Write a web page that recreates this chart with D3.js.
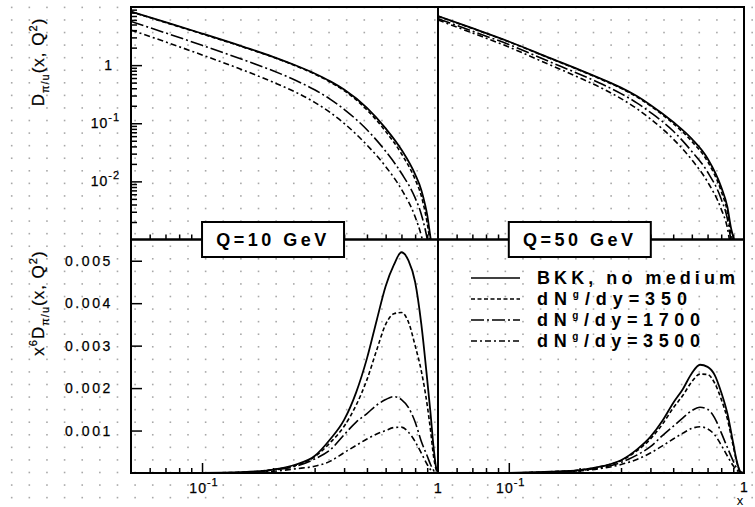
<!DOCTYPE html>
<html>
<head>
<meta charset="utf-8">
<script src="https://cdn.jsdelivr.net/npm/d3@7"></script>
<style>
  body { margin: 0; background: #fff; }
  svg { display: block; }
  text { font-family: "Liberation Sans", Arial, sans-serif; fill: #000; }
</style>
</head>
<body>
<svg id="chart" width="755" height="507"></svg>
<script>
// ---- data ----------------------------------------------------------------
// momentum fraction grid for the fragmentation functions D(x,Q^2)
const xGridD = [0.05, 0.07, 0.1, 0.15, 0.2, 0.25, 0.3, 0.35, 0.4, 0.5, 0.6, 0.7, 0.8, 0.85, 0.88, 0.9, 0.93, 0.95];
// momentum fraction grid for x^6 D(x,Q^2)
const xGridX6 = [0.05, 0.1, 0.15, 0.2, 0.25, 0.3, 0.35, 0.4, 0.45, 0.5, 0.55, 0.6, 0.65, 0.7, 0.75, 0.8, 0.85, 0.9, 0.93, 0.96, 0.98, 1.0];

const seriesLabels = ["BKK, no medium", "350", "1700", "3500"];
const scaleLabels = ["Q=10 GeV", "Q=50 GeV"];

// D_{pi/u}(x,Q^2), Q = 10 GeV
const dQ10_bkk  = [8.37, 5.48, 3.50, 2.067, 1.391, 0.985, 0.718, 0.525, 0.379, 0.1837, 0.0815, 0.0351, 0.0132, 0.00705, 0.0041, 0.00265, 0.00106, 0.0006];
const dQ10_350  = [8.27, 5.41, 3.445, 2.034, 1.369, 0.966, 0.704, 0.508, 0.3645, 0.1697, 0.0724, 0.0299, 0.0108, 0.0056, 0.00309, 0.00192, 0.0008, 0.0005];
const dQ10_1700 = [5.63, 3.585, 2.193, 1.23, 0.799, 0.544, 0.376, 0.258, 0.174, 0.0772, 0.033, 0.0138, 0.0052, 0.0027, 0.00157, 0.00102, 0.0004, 0.0002];
const dQ10_3500 = [4.02, 2.51, 1.50, 0.815, 0.51, 0.34, 0.229, 0.1525, 0.0998, 0.0421, 0.018, 0.0073, 0.00246, 0.00116, 0.00064, 0.0004, 0.0002, 0.0001];

// D_{pi/u}(x,Q^2), Q = 50 GeV
const dQ50_bkk  = [7.0, 4.318, 2.55, 1.321, 0.831, 0.570, 0.4105, 0.2932, 0.2069, 0.1051, 0.0538, 0.02475, 0.00797, 0.00362, 0.0016, 0.0011, 0.0006, 0.0003];
const dQ50_350  = [6.92, 4.267, 2.52, 1.30, 0.815, 0.557, 0.3993, 0.2841, 0.1989, 0.099, 0.0487, 0.02198, 0.0068, 0.00297, 0.00129, 0.00087, 0.0005, 0.0003];
const dQ50_1700 = [6.317, 3.834, 2.263, 1.132, 0.6955, 0.4678, 0.3237, 0.2248, 0.1537, 0.0736, 0.0327, 0.0145, 0.00496, 0.00225, 0.00098, 0.00065, 0.0004, 0.0002];
const dQ50_3500 = [5.975, 3.57, 2.05, 1.005, 0.6052, 0.3961, 0.2655, 0.1786, 0.1188, 0.0536, 0.0235, 0.0098, 0.00333, 0.00158, 0.0007, 0.0005, 0.0003, 0.0002];

// x^6 D_{pi/u}(x,Q^2), Q = 10 GeV
const x6Q10_bkk  = [0, 0.000002, 0.00002, 0.00008, 0.0002, 0.0004, 0.0008, 0.00125, 0.0019, 0.0027, 0.0036, 0.0044, 0.0049, 0.0052, 0.0050, 0.0045, 0.0035, 0.0022, 0.0014, 0.00055, 0.00015, 0];
const x6Q10_350  = [0, 0.000002, 0.00002, 0.00008, 0.00018, 0.00038, 0.00072, 0.0011, 0.0016, 0.0022, 0.0029, 0.0035, 0.00375, 0.00378, 0.00355, 0.0030, 0.0024, 0.0016, 0.0010, 0.00035, 0.0001, 0];
const x6Q10_1700 = [0, 0.000001, 0.00001, 0.00007, 0.00016, 0.00033, 0.00055, 0.0009, 0.0012, 0.0014, 0.0016, 0.00173, 0.0018, 0.00173, 0.00154, 0.0012, 0.00074, 0.0004, 0.0002, 0.00006, 0.00002, 0];
const x6Q10_3500 = [0, 0.000001, 0.00001, 0.00004, 0.0001, 0.00016, 0.00028, 0.00048, 0.00065, 0.0008, 0.00092, 0.001, 0.00107, 0.00108, 0.00096, 0.00074, 0.00047, 0.0002, 0.00008, 0.00002, 0.00001, 0];

// x^6 D_{pi/u}(x,Q^2), Q = 50 GeV
const x6Q50_bkk  = [0, 0.000003, 0.00003, 0.00007, 0.00016, 0.0003, 0.00055, 0.00085, 0.00123, 0.00165, 0.00198, 0.00235, 0.00255, 0.0025, 0.00231, 0.0019, 0.0014, 0.0007, 0.0003, 0.00005, 0.00001, 0];
const x6Q50_350  = [0, 0.000003, 0.00003, 0.00007, 0.00016, 0.00029, 0.00052, 0.0008, 0.00115, 0.00153, 0.00183, 0.00215, 0.00233, 0.00232, 0.00212, 0.00174, 0.00127, 0.00063, 0.00027, 0.00005, 0.00001, 0];
const x6Q50_1700 = [0, 0.000002, 0.00002, 0.00006, 0.00013, 0.00025, 0.00042, 0.00062, 0.00088, 0.0011, 0.0013, 0.00147, 0.00155, 0.0015, 0.0013, 0.00095, 0.0006, 0.00028, 0.00012, 0.00003, 0.00001, 0];
const x6Q50_3500 = [0, 0.000002, 0.00002, 0.00005, 0.00011, 0.0002, 0.00032, 0.00047, 0.00064, 0.0008, 0.00094, 0.00105, 0.00109, 0.00104, 0.0009, 0.00066, 0.0004, 0.00017, 0.00007, 0.00002, 0, 0];

// axis ticks
const xMinorTicks = [0.06, 0.07, 0.08, 0.09, 0.2, 0.3, 0.4, 0.5, 0.6, 0.7, 0.8, 0.9];
const xMajorTicks = [0.1];
const yLogMajor = [0.01, 0.1, 1];
const yLinTicks = [0.001, 0.002, 0.003, 0.004, 0.005];

// ---- styles ----------------------------------------------------------------
const lineDash = [null, "4,2.5", "13,3,2,3", "6,3,2,3"];
const lineWidth = [1.8, 1.6, 1.6, 1.6];

// ---- layout & scales -------------------------------------------------------
const W = 755, H = 507;
const colX = [[131, 438], [438, 744]];
const rowY = [[7, 239.5], [239.5, 473]];

const xScales = colX.map(r => d3.scaleLog().domain([0.05, 1]).range(r));
const yLog = d3.scaleLog().domain([1e-3, 10]).range([rowY[0][1], rowY[0][0]]);
const yLin = d3.scaleLinear().domain([0, 0.0055]).range([rowY[1][1], rowY[1][0]]);

const svg = d3.select("#chart");

// faint dotted background raster
const dotG = svg.append("g").attr("fill", "#a8a8a8");
for (let i = 0; i < 44; i++) {
  for (let j = 0; j < 41; j++) {
    const cx = 11.7 + 17.63 * i, cy = 7.4 + 12.57 * j;
    if (cx > W || cy > H) continue;
    dotG.append("rect").attr("x", cx - 0.8).attr("y", cy - 0.8).attr("width", 1.6).attr("height", 1.6);
  }
}

// clip paths for every panel
const defs = svg.append("defs");
[0, 1].forEach(c => [0, 1].forEach(r => {
  defs.append("clipPath").attr("id", `clip-${c}-${r}`)
    .append("rect")
    .attr("x", colX[c][0]).attr("y", rowY[r][0])
    .attr("width", colX[c][1] - colX[c][0]).attr("height", rowY[r][1] - rowY[r][0]);
}));

const panels = [
  { c: 0, r: 0, y: yLog, xs: xGridD,  series: [dQ10_bkk, dQ10_350, dQ10_1700, dQ10_3500] },
  { c: 1, r: 0, y: yLog, xs: xGridD,  series: [dQ50_bkk, dQ50_350, dQ50_1700, dQ50_3500] },
  { c: 0, r: 1, y: yLin, xs: xGridX6, series: [x6Q10_bkk, x6Q10_350, x6Q10_1700, x6Q10_3500] },
  { c: 1, r: 1, y: yLin, xs: xGridX6, series: [x6Q50_bkk, x6Q50_350, x6Q50_1700, x6Q50_3500] }
];

panels.forEach(p => {
  const x = xScales[p.c];
  const line = d3.line()
    .x(d => x(d[0]))
    .y(d => p.y(d[1]))
    .curve(d3.curveMonotoneX);
  const g = svg.append("g").attr("clip-path", `url(#clip-${p.c}-${p.r})`);
  p.series.forEach((vals, k) => {
    const pts = p.xs.map((xv, i) => [xv, vals[i]]);
    g.append("path")
      .attr("d", line(pts))
      .attr("fill", "none")
      .attr("stroke", "#000")
      .attr("stroke-width", lineWidth[k])
      .attr("stroke-dasharray", lineDash[k]);
  });
});

// x-axis ticks (pointing up) on the bottom edge of each panel
function styleAxis(sel) {
  sel.select(".domain").remove();
  sel.selectAll(".tick line").attr("stroke", "#000").attr("stroke-width", 1.5);
  sel.selectAll(".tick text").remove();
}
[0, 1].forEach(c => [0, 1].forEach(r => {
  const yb = rowY[r][1];
  svg.append("g").attr("transform", `translate(0,${yb})`)
    .call(d3.axisBottom(xScales[c]).tickValues(xMinorTicks).tickSizeInner(-5).tickSizeOuter(0))
    .call(styleAxis);
  svg.append("g").attr("transform", `translate(0,${yb})`)
    .call(d3.axisBottom(xScales[c]).tickValues(xMajorTicks).tickSizeInner(-10).tickSizeOuter(0))
    .call(styleAxis);
}));

// y-axis ticks, top-left (log) panel
const yLogMinor = [];
[0.001, 0.01, 0.1, 1].forEach(dec => { for (let m = 2; m <= 9; m++) yLogMinor.push(dec * m); });
svg.append("g").attr("transform", `translate(${colX[0][0]},0)`)
  .call(d3.axisRight(yLog).tickValues(yLogMinor).tickSizeInner(6).tickSizeOuter(0))
  .call(styleAxis);
svg.append("g").attr("transform", `translate(${colX[0][0]},0)`)
  .call(d3.axisRight(yLog).tickValues(yLogMajor).tickSizeInner(11).tickSizeOuter(0))
  .call(styleAxis);

// y-axis ticks and labels, bottom-left (linear) panel
const linAxis = svg.append("g").attr("transform", `translate(${colX[0][0]},0)`)
  .call(d3.axisLeft(yLin).tickValues(yLinTicks).tickSizeInner(-11).tickSizeOuter(0)
    .tickPadding(18).tickFormat(d3.format(".3f")));
linAxis.select(".domain").remove();
linAxis.selectAll(".tick line").attr("stroke", "#000").attr("stroke-width", 1.5);
linAxis.selectAll(".tick text")
  .attr("font-family", "Liberation Sans, Arial, sans-serif")
  .attr("font-size", 14).attr("letter-spacing", "2.6px").attr("fill", "#000")
  .attr("stroke", "#000").attr("stroke-width", 0.25);

// panel frames
[0, 1].forEach(c => [0, 1].forEach(r => {
  svg.append("rect")
    .attr("x", colX[c][0]).attr("y", rowY[r][0])
    .attr("width", colX[c][1] - colX[c][0]).attr("height", rowY[r][1] - rowY[r][0])
    .attr("fill", "none").attr("stroke", "#000").attr("stroke-width", 2);
}));

// power-of-ten label helper
function powLabel(g, x, y, anchor, exp) {
  const t = g.append("text").attr("x", x).attr("y", y).attr("text-anchor", anchor)
    .attr("font-size", 14).attr("letter-spacing", "1px")
    .attr("stroke", "#000").attr("stroke-width", 0.25);
  t.append("tspan").text("10");
  t.append("tspan").attr("dy", -7).attr("font-size", 11).text(exp);
  return t;
}

const labG = svg.append("g");
// log y labels
labG.append("text").attr("x", 112).attr("y", yLog(1) + 5).attr("text-anchor", "end")
  .attr("font-size", 14).attr("stroke", "#000").attr("stroke-width", 0.25).text("1");
powLabel(labG, 120, yLog(0.1) + 5, "end", "-1");
powLabel(labG, 120, yLog(0.01) + 5, "end", "-2");

// x labels under the bottom panels
[0, 1].forEach(c => {
  powLabel(labG, xScales[c](0.1) + 2, 493, "middle", "-1");
});
labG.append("text").attr("x", xScales[0](1)).attr("y", 493).attr("text-anchor", "middle")
  .attr("font-size", 14).attr("stroke", "#000").attr("stroke-width", 0.25).text("1");
labG.append("text").attr("x", xScales[1](1)).attr("y", 492).attr("text-anchor", "middle")
  .attr("font-size", 14).attr("stroke", "#000").attr("stroke-width", 0.25).text("1");
labG.append("text").attr("x", 740).attr("y", 505).attr("text-anchor", "middle")
  .attr("font-size", 13).text("x");

// y-axis titles
function yTitle(cx, cy, withX6) {
  const t = svg.append("text")
    .attr("transform", `translate(${cx},${cy}) rotate(-90)`)
    .attr("text-anchor", "middle").attr("font-size", 17).attr("letter-spacing", "1px")
    .attr("stroke", "#000").attr("stroke-width", 0.25);
  if (withX6) {
    t.append("tspan").text("x");
    t.append("tspan").attr("dy", -7).attr("font-size", 11).text("6");
    t.append("tspan").attr("dy", 7).text("D");
  } else {
    t.append("tspan").text("D");
  }
  t.append("tspan").attr("dy", 5).attr("font-size", 11).text("π/u");
  t.append("tspan").attr("dy", -5).text("(x, Q");
  t.append("tspan").attr("dy", -7).attr("font-size", 11).text("2");
  t.append("tspan").attr("dy", 7).text(")");
}
yTitle(44, 62, false);
yTitle(44, 303, true);

// Q-scale boxes straddling the panel boundary
scaleLabels.forEach((lab, c) => {
  const bx = xScales[c](0.1);
  const g = svg.append("g");
  g.append("rect").attr("x", bx).attr("y", 222).attr("width", 142).attr("height", 35)
    .attr("fill", "#fff").attr("stroke", "#000").attr("stroke-width", 2);
  g.append("text").attr("x", bx + 71).attr("y", 246).attr("text-anchor", "middle")
    .attr("font-size", 18).attr("font-weight", "bold").attr("letter-spacing", "3.5px").text(lab);
});

// legend
const legG = svg.append("g");
const legRowY = [278, 299, 320, 341];
const legTextLen = [198, 150, 163, 163];
seriesLabels.forEach((lab, k) => {
  const y = legRowY[k];
  legG.append("line").attr("x1", 471).attr("x2", 520).attr("y1", y).attr("y2", y)
    .attr("stroke", "#000").attr("stroke-width", 1.5).attr("stroke-dasharray", lineDash[k]);
  const t = legG.append("text").attr("x", 537).attr("y", y + 6)
    .attr("font-size", 18).attr("font-weight", "bold")
    .attr("textLength", legTextLen[k]).attr("lengthAdjust", "spacing");
  if (k === 0) {
    t.text(lab);
  } else {
    t.append("tspan").text("dN");
    t.append("tspan").attr("dy", -7).attr("font-size", 10).text("g");
    t.append("tspan").attr("dy", 7).text("/dy=" + lab);
  }
});
</script>
</body>
</html>
